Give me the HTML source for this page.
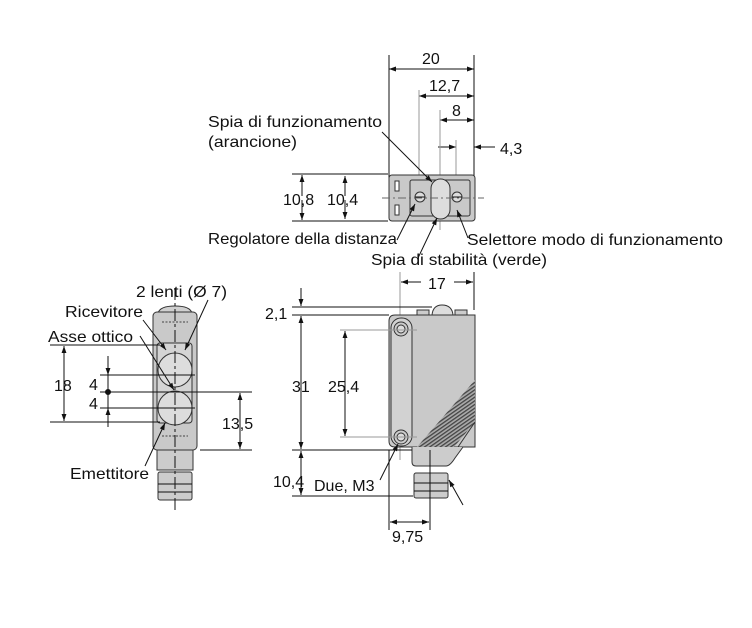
<!DOCTYPE html>
<html><head><meta charset="utf-8"><style>
html,body{margin:0;padding:0;background:#fff}
svg{display:block}
text{font-family:"Liberation Sans",sans-serif;font-size:16px;fill:#111}
</style></head><body>
<svg width="752" height="628" viewBox="0 0 752 628" xmlns="http://www.w3.org/2000/svg">
<defs>
<marker id="a" viewBox="0 0 10 10" refX="10" refY="5" markerWidth="9" markerHeight="7" orient="auto-start-reverse" markerUnits="userSpaceOnUse"><path d="M0,1.5 L10,5 L0,8.5z" fill="#111"/></marker>
<pattern id="h" width="3" height="3" patternUnits="userSpaceOnUse" patternTransform="rotate(-35)"><rect width="3" height="3" fill="#aaa"/><rect width="3" height="1.3" fill="#444"/></pattern>
</defs>
<g stroke="#111" stroke-width="1" fill="none">
<!-- ===== TOP VIEW ===== -->
<line x1="389" y1="55" x2="389" y2="200"/>
<line x1="474" y1="55" x2="474" y2="200"/>
<line x1="389" y1="69" x2="474" y2="69" marker-start="url(#a)" marker-end="url(#a)"/>
<line x1="419" y1="96" x2="474" y2="96" marker-start="url(#a)" marker-end="url(#a)"/>
<line x1="440" y1="120" x2="474" y2="120" marker-start="url(#a)" marker-end="url(#a)"/>
<line x1="438" y1="147" x2="456" y2="147" marker-end="url(#a)"/>
<line x1="495" y1="147" x2="474" y2="147" marker-end="url(#a)"/>
<g stroke="#999"><line x1="419" y1="90" x2="419" y2="215"/><line x1="440" y1="110" x2="440" y2="230"/><line x1="456" y1="140" x2="456" y2="190"/></g>
<rect x="389" y="175" width="86" height="46" rx="3" fill="#c9c9c9" stroke="#333"/>
<rect x="410" y="180" width="60" height="36" rx="2" fill="none" stroke="#333"/>
<rect x="395" y="181" width="4" height="10" fill="#fff" stroke="#333"/>
<rect x="395" y="205" width="4" height="10" fill="#fff" stroke="#333"/>
<rect x="431" y="179" width="19" height="40" rx="9.5" fill="#ddd" stroke="#333"/>
<circle cx="420" cy="197" r="5" fill="#ddd" stroke="#333"/><line x1="415" y1="197" x2="425" y2="197"/>
<circle cx="457" cy="197" r="5" fill="#ddd" stroke="#333"/><line x1="452" y1="197" x2="462" y2="197"/>
<line x1="382" y1="198" x2="484" y2="198" stroke="#666" stroke-dasharray="8,3,2,3"/>
<line x1="292" y1="174" x2="388" y2="174"/>
<line x1="292" y1="221" x2="388" y2="221"/>
<line x1="302" y1="175" x2="302" y2="196" marker-start="url(#a)"/>
<line x1="302" y1="200" x2="302" y2="220" marker-end="url(#a)"/>
<line x1="345" y1="176" x2="345" y2="196" marker-start="url(#a)"/>
<line x1="345" y1="200" x2="345" y2="219" marker-end="url(#a)"/>
<line x1="382" y1="132" x2="432" y2="182" marker-end="url(#a)"/>
<line x1="397" y1="240" x2="415" y2="204" marker-end="url(#a)"/>
<line x1="418" y1="258" x2="437" y2="218" marker-end="url(#a)"/>
<line x1="468" y1="238" x2="457" y2="210" marker-end="url(#a)"/>

<!-- ===== FRONT VIEW (left) ===== -->
<path d="M158,313 Q160,306 175,306 Q190,306 192,313" fill="#d0d0d0" stroke="#333"/>
<rect x="153" y="312" width="44" height="138" rx="4" fill="#c9c9c9" stroke="#333"/>
<rect x="157" y="343" width="35" height="80" rx="3" fill="#d4d4d4" stroke="#333"/>
<circle cx="175" cy="370" r="17" fill="#ddd" stroke="#333"/>
<circle cx="175" cy="408" r="17" fill="#ddd" stroke="#333"/>
<g stroke="#444" stroke-dasharray="2,1.5"><line x1="162" y1="322" x2="188" y2="322"/><line x1="162" y1="436" x2="188" y2="436"/></g>
<rect x="157" y="450" width="36" height="20" fill="#ccc" stroke="#333"/>
<rect x="158" y="472" width="34" height="28" rx="2" fill="#ccc" stroke="#333"/>
<line x1="158" y1="484" x2="192" y2="484"/><line x1="158" y1="492" x2="192" y2="492"/>
<line x1="175" y1="288" x2="175" y2="510" stroke-dasharray="12,3,3,3"/>
<line x1="50" y1="345" x2="160" y2="345"/>
<line x1="50" y1="422" x2="160" y2="422"/>
<line x1="100" y1="375" x2="195" y2="375"/>
<line x1="100" y1="392" x2="252" y2="392"/>
<line x1="100" y1="408" x2="195" y2="408"/>
<line x1="200" y1="450" x2="252" y2="450"/>
<line x1="64" y1="346" x2="64" y2="421" marker-start="url(#a)" marker-end="url(#a)"/>
<line x1="108" y1="356" x2="108" y2="375" marker-end="url(#a)"/>
<line x1="108" y1="375" x2="108" y2="408"/>
<line x1="108" y1="427" x2="108" y2="408" marker-end="url(#a)"/>
<circle cx="108" cy="392" r="2.5" fill="#111"/>
<line x1="240" y1="393" x2="240" y2="449" marker-start="url(#a)" marker-end="url(#a)"/>
<line x1="143" y1="320" x2="166" y2="350" marker-end="url(#a)"/>
<line x1="208" y1="300" x2="185" y2="350" marker-end="url(#a)"/>
<line x1="140" y1="336" x2="174" y2="390" marker-end="url(#a)"/>
<line x1="145" y1="466" x2="165" y2="423" marker-end="url(#a)"/>

<!-- ===== SIDE VIEW (right) ===== -->
<line x1="400" y1="272" x2="400" y2="460" stroke="#999"/>
<line x1="474" y1="272" x2="474" y2="310"/>
<line x1="401" y1="282" x2="421" y2="282" marker-start="url(#a)"/>
<line x1="454" y1="282" x2="473" y2="282" marker-end="url(#a)"/>
<path d="M432,315 Q433,305 442,305 Q452,305 453,315" fill="#ddd" stroke="#333"/>
<rect x="417" y="310" width="12" height="5" fill="#ccc" stroke="#333"/>
<rect x="455" y="310" width="12" height="5" fill="#ccc" stroke="#333"/>
<path d="M395,315 H475 V447 H395 Q389,447 389,441 V321 Q389,315 395,315z" fill="#c9c9c9" stroke="#333"/>
<path d="M475,380 V422 L454,447 H417 Z" fill="url(#h)" stroke="none"/>
<path d="M475,422 L458,447" stroke="#333"/>
<rect x="391" y="318" width="21" height="128" rx="10" fill="#d2d2d2" stroke="#333"/>
<circle cx="401" cy="329" r="7" fill="#ccc" stroke="#333"/><circle cx="401" cy="329" r="4" fill="#ddd" stroke="#333"/>
<circle cx="401" cy="437" r="7" fill="#ccc" stroke="#333"/><circle cx="401" cy="437" r="4" fill="#ddd" stroke="#333"/>
<path d="M412,447 V462 Q412,466 416,466 H446 Q450,466 455,458 L463,447" fill="#ccc" stroke="#333"/>
<rect x="414" y="473" width="34" height="25" rx="2" fill="#ccc" stroke="#333"/>
<line x1="414" y1="483" x2="448" y2="483"/><line x1="414" y1="491" x2="448" y2="491"/>
<line x1="430" y1="450" x2="430" y2="530"/>
<line x1="389" y1="450" x2="389" y2="530"/>
<g stroke="#999"><line x1="340" y1="330" x2="417" y2="330"/><line x1="340" y1="437" x2="417" y2="437"/></g>
<line x1="292" y1="307" x2="432" y2="307"/>
<line x1="292" y1="315" x2="389" y2="315"/>
<line x1="292" y1="450" x2="412" y2="450"/>
<line x1="292" y1="496" x2="413" y2="496"/>
<line x1="301" y1="288" x2="301" y2="306" marker-end="url(#a)"/>
<line x1="301" y1="316" x2="301" y2="449" marker-start="url(#a)" marker-end="url(#a)"/>
<line x1="345" y1="331" x2="345" y2="436" marker-start="url(#a)" marker-end="url(#a)"/>
<line x1="301" y1="451" x2="301" y2="495" marker-start="url(#a)" marker-end="url(#a)"/>
<line x1="390" y1="522" x2="429" y2="522" marker-start="url(#a)" marker-end="url(#a)"/>
<line x1="380" y1="480" x2="398" y2="444" marker-end="url(#a)"/>
<line x1="463" y1="505" x2="449" y2="480" marker-end="url(#a)"/>
</g>
<!-- TEXT -->
<text x="422" y="64">20</text>
<text x="429" y="91">12,7</text>
<text x="452" y="116">8</text>
<text x="500" y="154">4,3</text>
<text x="208" y="127" textLength="174" lengthAdjust="spacingAndGlyphs">Spia di funzionamento</text>
<text x="208" y="147" textLength="89" lengthAdjust="spacingAndGlyphs">(arancione)</text>
<text x="283" y="205">10,8</text>
<text x="327" y="205">10,4</text>
<text x="208" y="244" textLength="189" lengthAdjust="spacingAndGlyphs">Regolatore della distanza</text>
<text x="467" y="245" textLength="256" lengthAdjust="spacingAndGlyphs">Selettore modo di funzionamento</text>
<text x="371" y="265" textLength="176" lengthAdjust="spacingAndGlyphs">Spia di stabilità (verde)</text>
<text x="136" y="297" textLength="91" lengthAdjust="spacingAndGlyphs">2 lenti (Ø 7)</text>
<text x="65" y="317" textLength="78" lengthAdjust="spacingAndGlyphs">Ricevitore</text>
<text x="48" y="342" textLength="85" lengthAdjust="spacingAndGlyphs">Asse ottico</text>
<text x="54" y="391">18</text>
<text x="89" y="390">4</text>
<text x="89" y="409">4</text>
<text x="222" y="429">13,5</text>
<text x="70" y="479" textLength="79" lengthAdjust="spacingAndGlyphs">Emettitore</text>
<text x="428" y="289">17</text>
<text x="265" y="319">2,1</text>
<text x="292" y="392">31</text>
<text x="328" y="392">25,4</text>
<text x="273" y="487">10,4</text>
<text x="314" y="491">Due, M3</text>
<text x="392" y="542">9,75</text>
</svg>
</body></html>
